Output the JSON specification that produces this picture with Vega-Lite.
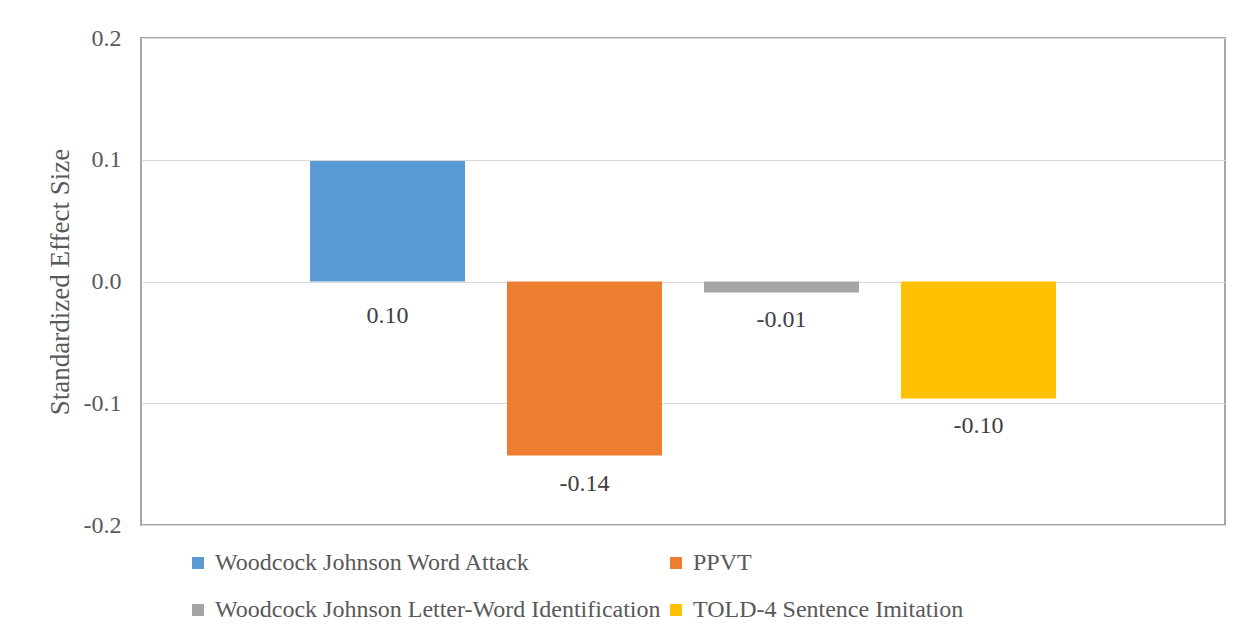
{
  "$schema": "https://vega.github.io/schema/vega-lite/v6.json",
  "width": 1084,
  "height": 487,
  "autosize": {"type": "none"},
  "padding": {"left": 141, "top": 38, "right": 23, "bottom": 118},
  "background": "white",
  "config": {
    "font": "Liberation Serif, serif",
    "locale": {"number": {"decimal": ".", "thousands": ",", "grouping": [3], "currency": ["$", ""], "minus": "-"}},
    "view": {"stroke": "#a6a6a6", "strokeWidth": 2}
  },
  "data": {
    "values": [
      {"measure": "Woodcock Johnson Word Attack", "value": 0.099},
      {"measure": "PPVT", "value": -0.143},
      {"measure": "Woodcock Johnson Letter-Word Identification", "value": -0.009},
      {"measure": "TOLD-4 Sentence Imitation", "value": -0.096}
    ]
  },
  "encoding": {
    "x": {
      "field": "measure",
      "type": "nominal",
      "sort": null,
      "axis": null,
      "scale": {"paddingInner": 0.213, "paddingOuter": 0.858}
    }
  },
  "layer": [
    {
      "mark": {"type": "bar"},
      "encoding": {
        "y": {
          "field": "value",
          "type": "quantitative",
          "scale": {"domain": [-0.2, 0.2], "nice": false},
          "axis": {
            "title": "Standardized Effect Size",
            "titleFont": "Liberation Serif, serif",
            "titleFontSize": 27,
            "titleFontWeight": "normal",
            "titleColor": "#595959",
            "titleX": -67,
            "values": [-0.2, -0.1, 0, 0.1, 0.2],
            "format": ".1f",
            "labelFont": "Liberation Serif, serif",
            "labelFontSize": 24,
            "labelColor": "#595959",
            "labelPadding": 20,
            "ticks": false,
            "domain": false,
            "grid": true,
            "gridColor": "#d9d9d9",
            "gridWidth": 1
          }
        },
        "color": {
          "field": "measure",
          "type": "nominal",
          "sort": null,
          "scale": {
            "domain": ["Woodcock Johnson Word Attack", "PPVT", "Woodcock Johnson Letter-Word Identification", "TOLD-4 Sentence Imitation"],
            "range": ["#5b9bd5", "#ed7d31", "#a5a5a5", "#ffc000"]
          },
          "legend": {
            "title": null,
            "orient": "none",
            "legendX": 45,
            "legendY": 513,
            "direction": "horizontal",
            "columns": 2,
            "columnPadding": 3,
            "rowPadding": 23,
            "symbolType": "square",
            "symbolSize": 144,
            "symbolStrokeWidth": 0,
            "symbolOpacity": 1,
            "labelFont": "Liberation Serif, serif",
            "labelFontSize": 24,
            "labelColor": "#595959",
            "labelOffset": 5,
            "labelLimit": 700
          }
        }
      }
    },
    {
      "transform": [{"filter": "datum.value >= 0"}],
      "mark": {"type": "text", "baseline": "middle", "dy": 34, "font": "Liberation Serif, serif", "fontSize": 24, "color": "#404040"},
      "encoding": {
        "y": {"datum": 0, "type": "quantitative"},
        "text": {"field": "value", "type": "quantitative", "format": ".2f"}
      }
    },
    {
      "transform": [{"filter": "datum.value < 0"}],
      "mark": {"type": "text", "baseline": "middle", "dy": 28, "font": "Liberation Serif, serif", "fontSize": 24, "color": "#404040"},
      "encoding": {
        "y": {"field": "value", "type": "quantitative"},
        "text": {"field": "value", "type": "quantitative", "format": ".2f"}
      }
    }
  ]
}
